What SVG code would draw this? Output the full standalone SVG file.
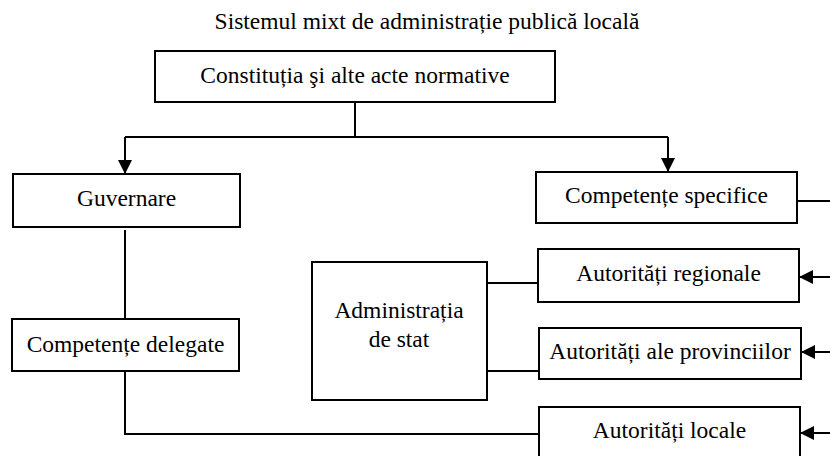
<svg xmlns="http://www.w3.org/2000/svg" width="830" height="456" viewBox="0 0 830 456">
  <style>
    .box { fill: #ffffff; stroke: #000000; stroke-width: 2; }
    .lbl { font-family: "Liberation Serif", "Times New Roman", serif; font-size: 23.5px; fill: #000000; text-anchor: middle; }
    .ln { fill: none; stroke: #000000; stroke-width: 2; }
  </style>
  <defs>
    <marker id="arr" viewBox="0 0 14 14" refX="14" refY="7" markerWidth="14" markerHeight="14" markerUnits="userSpaceOnUse" orient="auto">
      <path d="M0,0 L14,7 L0,14 Z" fill="#000000"/>
    </marker>
  </defs>
  <rect width="830" height="456" fill="#ffffff"/>
  <text class="lbl" x="427" y="29">Sistemul mixt de administrație publică locală</text>

  <g id="connectors">
    <path class="ln" d="M355,102 V137"/>
    <path class="ln" d="M125,137 H668"/>
    <path class="ln" d="M125,137 V174" marker-end="url(#arr)"/>
    <path class="ln" d="M668,137 V172" marker-end="url(#arr)"/>
    <path class="ln" d="M125,230 V319"/>
    <path class="ln" d="M125,371 V434 H539"/>
    <path class="ln" d="M487,283 H538"/>
    <path class="ln" d="M487,371 H539"/>
    <path class="ln" d="M797,201 H832"/>
    <path class="ln" d="M832,277 H799" marker-end="url(#arr)"/>
    <path class="ln" d="M832,352 H801" marker-end="url(#arr)"/>
    <path class="ln" d="M832,433 H800" marker-end="url(#arr)"/>
  </g>

  <g id="constitutia">
    <rect class="box" x="155" y="51" width="400" height="51"/>
    <text class="lbl" x="355" y="83">Constituția şi alte acte normative</text>
  </g>
  <g id="guvernare">
    <rect class="box" x="13" y="174" width="227" height="53"/>
    <text class="lbl" x="126.5" y="206">Guvernare</text>
  </g>
  <g id="competente-delegate">
    <rect class="box" x="12" y="319" width="227" height="52"/>
    <text class="lbl" x="125.5" y="352">Competențe delegate</text>
  </g>
  <g id="competente-specifice">
    <rect class="box" x="536" y="172" width="261" height="51"/>
    <text class="lbl" x="666.5" y="203">Competențe specifice</text>
  </g>
  <g id="administratia">
    <rect class="box" x="312" y="262" width="175" height="138"/>
    <text class="lbl" x="399" y="318">Administrația</text>
    <text class="lbl" x="399" y="347">de stat</text>
  </g>
  <g id="autoritati-regionale">
    <rect class="box" x="538" y="249" width="261" height="53"/>
    <text class="lbl" x="668.5" y="281">Autorități regionale</text>
  </g>
  <g id="autoritati-provinciilor">
    <rect class="box" x="539" y="328" width="262" height="51"/>
    <text class="lbl" x="670" y="359">Autorități ale provinciilor</text>
  </g>
  <g id="autoritati-locale">
    <rect class="box" x="539" y="407" width="261" height="53"/>
    <text class="lbl" x="669.5" y="438">Autorități locale</text>
  </g>
</svg>
